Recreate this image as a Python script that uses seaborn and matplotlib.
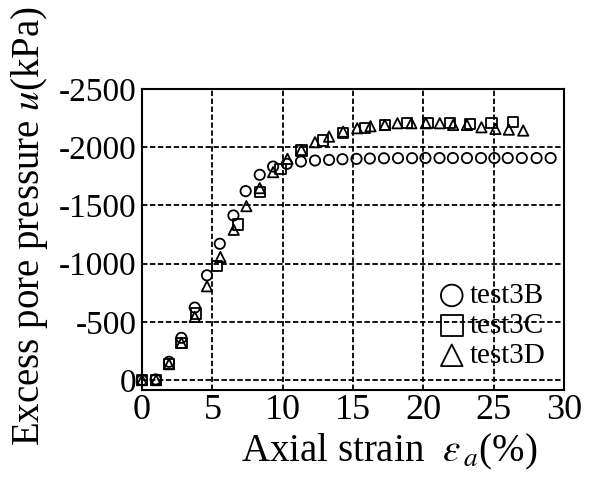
import matplotlib
matplotlib.use("Agg")
import matplotlib.pyplot as plt
import seaborn as sns
import numpy as np

# ---- data ----
x_3B = [0, 0.97, 1.92, 2.8, 3.75, 4.62, 5.53, 6.5, 7.37, 8.37, 9.32, 10.3, 11.3, 12.3,
        13.3, 14.25, 15.25, 16.2, 17.2, 18.2, 19.2, 20.15, 21.15, 22.1, 23.1, 24.1,
        25.05, 26.0, 27.0, 28.05, 29.05]
y_3B = [0, -6, -157, -363, -623, -900, -1171, -1414, -1623, -1763, -1834, -1857, -1877,
        -1886, -1891, -1897, -1900, -1903, -1905, -1906, -1906, -1908, -1907, -1907,
        -1907, -1907, -1907, -1907, -1907, -1907, -1907]

x_3C = [0, 1.0, 1.92, 2.8, 3.86, 5.33, 6.83, 8.37, 9.84, 11.33, 12.87, 14.3, 15.84,
        17.26, 18.85, 20.35, 21.88, 23.3, 24.85, 26.38]
y_3C = [0, 0, -137, -320, -571, -977, -1337, -1614, -1814, -1971, -2057, -2120, -2163,
        -2191, -2206, -2206, -2206, -2200, -2207, -2215]

x_3D = [0, 1.0, 1.92, 2.8, 3.75, 4.62, 5.57, 6.52, 7.42, 8.37, 9.32, 10.34, 11.33,
        12.3, 13.3, 14.3, 15.3, 16.24, 17.26, 18.16, 19.15, 20.18, 21.17, 22.12, 23.1,
        24.13, 25.13, 26.08, 27.1]
y_3D = [0, 0, -137, -320, -543, -806, -1057, -1291, -1494, -1649, -1786, -1900, -1977,
        -2043, -2091, -2134, -2163, -2180, -2191, -2206, -2206, -2206, -2206, -2191,
        -2191, -2171, -2157, -2151, -2143]

series_names = ["test3B", "test3C", "test3D"]
x_ticks = [0, 5, 10, 15, 20, 25, 30]
y_ticks = [0, -500, -1000, -1500, -2000, -2500]

# ---- style ----
sns.set_style("ticks")
plt.rcParams["font.family"] = ["Liberation Serif", "DejaVu Serif"]
plt.rcParams["mathtext.fontset"] = "stix"
plt.rcParams["axes.unicode_minus"] = False
plt.rcParams["text.color"] = "black"
plt.rcParams["axes.labelcolor"] = "black"
plt.rcParams["xtick.color"] = "black"
plt.rcParams["ytick.color"] = "black"

fig = plt.figure(figsize=(5.89, 4.80), dpi=100)
ax = fig.add_axes([142 / 589, 1 - 390 / 480, 422 / 589, 301 / 480])

markers = ["o", "s", "^"]
data = [(x_3B, y_3B), (x_3C, y_3C), (x_3D, y_3D)]
for (xs, ys), name, m in zip(data, series_names, markers):
    sns.scatterplot(x=xs, y=ys, marker=m, s=55, facecolors="none",
                    edgecolors="black", linewidths=1.3, label=name, ax=ax,
                    zorder=3, clip_on=False)

ax.set_xlim(0, 30)
ax.set_ylim(85, -2500)
ax.set_xticks(x_ticks)
ax.set_yticks(y_ticks)
ax.set_yticklabels([str(v) for v in y_ticks])

ax.grid(True, color="black", linestyle=(0, (3.0, 1.4)), linewidth=1.3)
for sp in ax.spines.values():
    sp.set_color("black")
    sp.set_linewidth(1.5)
ax.tick_params(axis="both", direction="in", length=0, colors="black")
ax.tick_params(axis="x", labelsize=26, pad=3)
ax.tick_params(axis="y", labelsize=24, pad=4)

ax.set_xlabel(r"Axial strain  $\varepsilon_{\,a}$(%)", fontsize=28, color="black")
ax.set_ylabel(r"Excess pore pressure $u$(kPa)", fontsize=28, color="black")
ax.xaxis.set_label_coords(0.585, -0.14)
ax.yaxis.set_label_coords(-0.218, 0.545)

leg = ax.legend(loc="lower right", bbox_to_anchor=(0.955, 0.07), frameon=False,
                fontsize=21, markerscale=2.1, handletextpad=0.0, handlelength=1.2,
                borderpad=0, labelspacing=0.12, borderaxespad=0)
for t in leg.get_texts():
    t.set_color("black")

fig.savefig("out.png", dpi=100)
